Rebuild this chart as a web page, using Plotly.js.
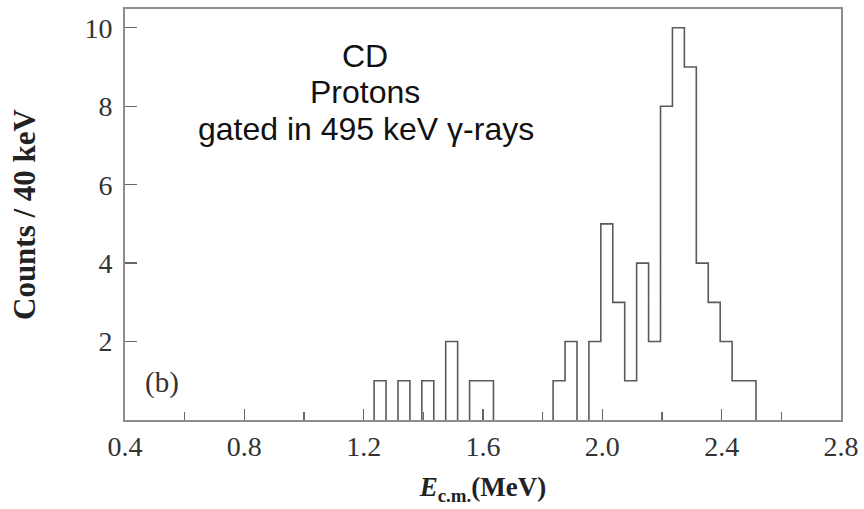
<!DOCTYPE html>
<html>
<head>
<meta charset="utf-8">
<script src="https://cdn.plot.ly/plotly-3.0.1.min.js"></script>
<style>
  html, body { margin: 0; padding: 0; background: #ffffff; }
  #chart { width: 864px; height: 509px; }
</style>
</head>
<body>
<div id="chart"></div>
<script>
// Bin centres (MeV), 40 keV bins
const binCenters = [1.255, 1.295, 1.335, 1.375, 1.415, 1.455, 1.495, 1.535, 1.575, 1.615,
                    1.655, 1.695, 1.735, 1.775, 1.815,
                    1.855, 1.895, 1.935, 1.975, 2.015, 2.055, 2.095, 2.135, 2.175, 2.215,
                    2.255, 2.295, 2.335, 2.375, 2.415, 2.455, 2.495];
// Counts per bin
const counts = [1, 0, 1, 0, 1, 0, 2, 0, 1, 1,
                0, 0, 0, 0, 0,
                1, 2, 0, 2, 5, 3, 1, 4, 2, 8,
                10, 9, 4, 3, 2, 1, 1];
const binWidth = 0.04;
const xTickVals = [0.4, 0.8, 1.2, 1.6, 2.0, 2.4, 2.8];
const xTickText = ["0.4", "0.8", "1.2", "1.6", "2.0", "2.4", "2.8"];
const yTickVals = [2, 4, 6, 8, 10];
const yTickText = ["2", "4", "6", "8", "10"];
const labelLines = ["CD", "Protons", "gated in 495 keV \u03B3-rays"];

// step outline built from the bins; runs of non-empty bins drawn as separate segments
const sx = [], sy = [];
let open = false;
binCenters.forEach((c, i) => {
  const left = c - binWidth / 2, right = c + binWidth / 2;
  if (counts[i] > 0) {
    if (!open) { sx.push(left); sy.push(0); open = true; }
    sx.push(left); sy.push(counts[i]);
    const nextZero = (i === counts.length - 1) || counts[i + 1] === 0;
    if (nextZero) { sx.push(right); sy.push(0); sx.push(null); sy.push(null); open = false; }
  }
});

const trace = {
  x: sx, y: sy, type: 'scatter', mode: 'lines',
  line: { shape: 'hv', color: '#5a5a5a', width: 1.6 },
  connectgaps: false,
  hoverinfo: 'skip', showlegend: false
};

const serif = 'Liberation Serif, Times New Roman, serif';
const frameColor = '#8c8c8c';

const layout = {
  width: 864, height: 509,
  margin: { l: 124.6, r: 22.6, t: 9, b: 88.5, pad: 0 },
  paper_bgcolor: '#ffffff', plot_bgcolor: '#ffffff',
  showlegend: false,
  xaxis: {
    range: [0.4, 2.8],
    tickvals: xTickVals, ticktext: xTickText,
    ticks: 'inside', ticklen: 11, tickwidth: 1.3, tickcolor: '#666',
    minor: { dtick: 0.2, tick0: 0.4, ticks: 'inside', ticklen: 8, tickwidth: 1.3, tickcolor: '#666', showgrid: false },
    showline: true, linecolor: frameColor, linewidth: 2, mirror: true,
    showgrid: false, zeroline: false,
    tickfont: { family: serif, size: 28, color: '#333' },
    title: { text: '<b><i>E</i><sub>c.m.</sub>(MeV)</b>', font: { family: serif, size: 27, color: '#222' }, standoff: 17 }
  },
  yaxis: {
    range: [0, 10.48],
    tickvals: yTickVals, ticktext: yTickText,
    ticks: 'inside', ticklen: 12, tickwidth: 1.3, tickcolor: '#666',
    ticklabelstandoff: 5,
    showline: true, linecolor: frameColor, linewidth: 2, mirror: true,
    showgrid: false, zeroline: false,
    tickfont: { family: serif, size: 28, color: '#333' },
    title: { text: '<b>Counts / 40 keV</b>', font: { family: serif, size: 31, color: '#222' }, standoff: 40 }
  },
  annotations: [
    { text: labelLines[0], xref: 'paper', yref: 'paper', x: 0.335, y: 0.885, xanchor: 'center', yanchor: 'middle', showarrow: false,
      font: { family: 'Liberation Sans, Arial, sans-serif', size: 32, color: '#111' } },
    { text: labelLines[1], xref: 'paper', yref: 'paper', x: 0.335, y: 0.797, xanchor: 'center', yanchor: 'middle', showarrow: false,
      font: { family: 'Liberation Sans, Arial, sans-serif', size: 32, color: '#111' } },
    { text: labelLines[2], xref: 'paper', yref: 'paper', x: 0.336, y: 0.709, xanchor: 'center', yanchor: 'middle', showarrow: false,
      font: { family: 'Liberation Sans, Arial, sans-serif', size: 32, color: '#111' } },
    { text: '(b)', xref: 'paper', yref: 'paper', x: 0.052, y: 0.091, xanchor: 'center', yanchor: 'middle', showarrow: false,
      font: { family: serif, size: 29, color: '#333' } }
  ]
};

Plotly.newPlot('chart', [trace], layout, { displayModeBar: false, staticPlot: true });
</script>
</body>
</html>
